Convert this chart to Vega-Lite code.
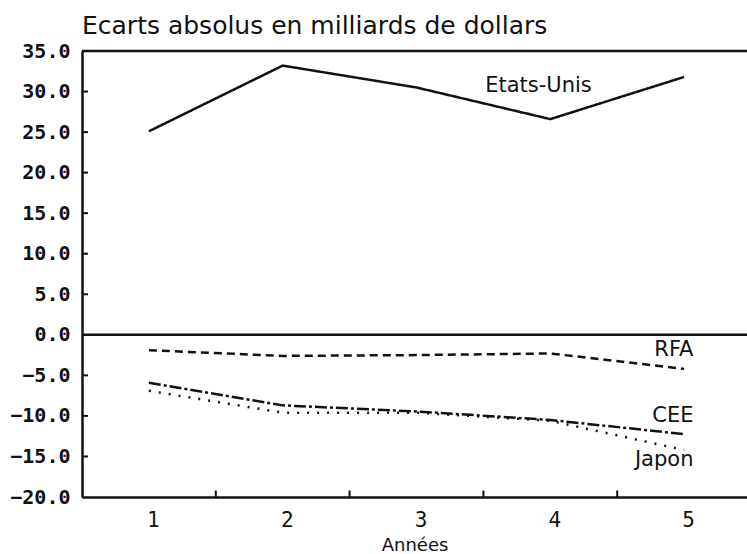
{
  "$schema": "https://vega.github.io/schema/vega-lite/v6.json",
  "autosize": "none",
  "width": 665,
  "height": 446,
  "padding": {"left": 82, "top": 51, "right": 0, "bottom": 57},
  "background": "white",
  "config": {"view": {"stroke": null}},
  "title": {"text": "Ecarts absolus en milliards de dollars", "anchor": "start", "frame": "group", "font": "DejaVu Sans", "fontSize": 25, "fontWeight": "normal", "color": "#111", "offset": 2},
  "datasets": {
    "series": [
      {"Pays": "Etats-Unis", "annee": 1, "valeur": 25.1},
      {"Pays": "Etats-Unis", "annee": 2, "valeur": 33.2},
      {"Pays": "Etats-Unis", "annee": 3, "valeur": 30.5},
      {"Pays": "Etats-Unis", "annee": 4, "valeur": 26.6},
      {"Pays": "Etats-Unis", "annee": 5, "valeur": 31.8},
      {"Pays": "RFA", "annee": 1, "valeur": -1.9},
      {"Pays": "RFA", "annee": 2, "valeur": -2.6},
      {"Pays": "RFA", "annee": 3, "valeur": -2.5},
      {"Pays": "RFA", "annee": 4, "valeur": -2.3},
      {"Pays": "RFA", "annee": 5, "valeur": -4.2},
      {"Pays": "CEE", "annee": 1, "valeur": -5.9},
      {"Pays": "CEE", "annee": 2, "valeur": -8.7},
      {"Pays": "CEE", "annee": 3, "valeur": -9.45},
      {"Pays": "CEE", "annee": 4, "valeur": -10.5},
      {"Pays": "CEE", "annee": 5, "valeur": -12.25},
      {"Pays": "Japon", "annee": 1, "valeur": -6.9},
      {"Pays": "Japon", "annee": 2, "valeur": -9.6},
      {"Pays": "Japon", "annee": 3, "valeur": -9.6},
      {"Pays": "Japon", "annee": 4, "valeur": -10.6},
      {"Pays": "Japon", "annee": 5, "valeur": -14.2}
    ],
    "labels": [
      {"label": "Etats-Unis", "annee": 4.31, "valeur": 29.9},
      {"label": "RFA", "annee": 5.07, "valeur": -2.6},
      {"label": "CEE", "annee": 5.07, "valeur": -10.8},
      {"label": "Japon", "annee": 5.07, "valeur": -16.2}
    ],
    "hlines": [{"valeur": 35}, {"valeur": 0}],
    "xticks": [
      {"annee": 1.5, "valeur": -20, "valeur2": -19.2},
      {"annee": 2.5, "valeur": -20, "valeur2": -19.2},
      {"annee": 3.5, "valeur": -20, "valeur2": -19.2},
      {"annee": 4.5, "valeur": -20, "valeur2": -19.2}
    ],
    "yticks": [
      {"annee": 0.5, "annee2": 0.545, "valeur": 30},
      {"annee": 0.5, "annee2": 0.545, "valeur": 25},
      {"annee": 0.5, "annee2": 0.545, "valeur": 20},
      {"annee": 0.5, "annee2": 0.545, "valeur": 15},
      {"annee": 0.5, "annee2": 0.545, "valeur": 10},
      {"annee": 0.5, "annee2": 0.545, "valeur": 5},
      {"annee": 0.5, "annee2": 0.545, "valeur": -5},
      {"annee": 0.5, "annee2": 0.545, "valeur": -10},
      {"annee": 0.5, "annee2": 0.545, "valeur": -15}
    ]
  },
  "layer": [
    {
      "data": {"name": "hlines"},
      "mark": {"type": "rule", "color": "#111", "strokeWidth": 2.5},
      "encoding": {
        "y": {"field": "valeur", "type": "quantitative", "scale": {"domain": [-20, 35], "nice": false, "zero": false},
          "axis": {"values": [-20, -15, -10, -5, 0, 5, 10, 15, 20, 25, 30, 35], "format": ".1f", "title": null, "grid": false, "domainColor": "#111", "domainWidth": 2.5, "ticks": false, "labelPadding": 12, "labelFont": "DejaVu Sans Mono", "labelFontWeight": "bold", "labelFontSize": 20, "labelColor": "#111"}}
      }
    },
    {
      "data": {"name": "xticks"},
      "mark": {"type": "rule", "color": "#111", "strokeWidth": 2},
      "encoding": {
        "x": {"field": "annee", "type": "quantitative", "scale": {"domain": [0.5, 5.47], "nice": false, "zero": false},
          "axis": {"values": [1, 2, 3, 4, 5], "format": "d", "title": "Années", "grid": false, "ticks": false, "domainColor": "#111", "domainWidth": 2.5, "labelPadding": 12, "labelOffset": 4, "labelFont": "DejaVu Sans Mono", "labelFontSize": 21, "labelColor": "#111", "titleFont": "DejaVu Sans", "titleFontSize": 18, "titleFontWeight": "normal", "titleColor": "#111", "titlePadding": 6}},
        "y": {"field": "valeur", "type": "quantitative"},
        "y2": {"field": "valeur2"}
      }
    },
    {
      "data": {"name": "yticks"},
      "mark": {"type": "rule", "color": "#111", "strokeWidth": 2},
      "encoding": {
        "x": {"field": "annee", "type": "quantitative"},
        "x2": {"field": "annee2"},
        "y": {"field": "valeur", "type": "quantitative"}
      }
    },
    {
      "data": {"name": "series"},
      "mark": {"type": "line", "color": "#111", "strokeWidth": 2.5},
      "encoding": {
        "x": {"field": "annee", "type": "quantitative"},
        "y": {"field": "valeur", "type": "quantitative"},
        "detail": {"field": "Pays"},
        "strokeDash": {"field": "Pays", "type": "nominal", "legend": null,
          "scale": {"domain": ["Etats-Unis", "RFA", "CEE", "Japon"], "range": [[1, 0], [8, 5], [12, 3, 3, 3], [2, 8]]}}
      }
    },
    {
      "data": {"name": "labels"},
      "mark": {"type": "text", "align": "right", "baseline": "alphabetic", "font": "DejaVu Sans", "fontSize": 21, "color": "#111"},
      "encoding": {
        "x": {"field": "annee", "type": "quantitative"},
        "y": {"field": "valeur", "type": "quantitative"},
        "text": {"field": "label"}
      }
    }
  ]
}
